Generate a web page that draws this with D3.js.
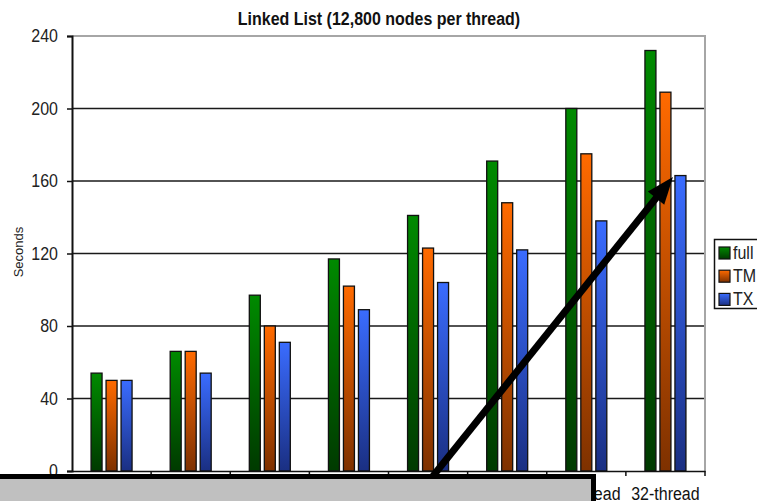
<!DOCTYPE html>
<html>
<head>
<meta charset="utf-8">
<script src="https://cdn.jsdelivr.net/npm/d3@7/dist/d3.min.js"></script>
<style>
  html, body { margin: 0; padding: 0; background: #fff; }
  svg { display: block; font-family: Arial, "Liberation Sans", sans-serif; }
</style>
</head>
<body>
<svg id="chart" width="757" height="501"></svg>
<script>
// Run times (seconds) per thread count for each variant
const categories = ["1-thread", "2-thread", "4-thread", "8-thread", "12-thread", "16-thread", "24-thread", "32-thread"];
const seriesNames = ["full", "TM", "TX"];
const fullValues = [54, 66, 97, 117, 141, 171, 200, 232];
const tmValues   = [50, 66, 80, 102, 123, 148, 175, 209];
const txValues   = [50, 54, 71, 89, 104, 122, 138, 163];
const yTicks = [0, 40, 80, 120, 160, 200, 240];

(function () {
const seriesValues = { full: fullValues, TM: tmValues, TX: txValues };
const colors = {
  full: ["#008a00", "#003a00"],
  TM:   ["#ff6a00", "#7e3100"],
  TX:   ["#3a6cff", "#1a2f82"]
};

const svg = d3.select("#chart");
const plotLeft = 72, plotRight = 705, plotTop = 36, plotBottom = 471;
const stretch = 1.1;

const x0 = d3.scaleBand().domain(categories).range([plotLeft, plotRight]).padding(0);
const groupW = 41;
const x1 = d3.scaleBand().domain(seriesNames).range([0, groupW]).paddingInner(0.267).paddingOuter(0);
const y = d3.scaleLinear().domain([0, 240]).range([plotBottom, plotTop]);

// gradients for bar fills
const defs = svg.append("defs");
seriesNames.forEach(s => {
  const g = defs.append("linearGradient").attr("id", "grad-" + s)
    .attr("x1", 0).attr("y1", 0).attr("x2", 0).attr("y2", 1);
  g.append("stop").attr("offset", "0%").attr("stop-color", colors[s][0]);
  g.append("stop").attr("offset", "100%").attr("stop-color", colors[s][1]);
});

// title
svg.append("text")
  .attr("transform", `translate(379,25) scale(1,${stretch})`)
  .attr("text-anchor", "middle")
  .attr("font-weight", "bold")
  .attr("font-size", 16)
  .attr("fill", "#111")
  .text("Linked List (12,800 nodes per thread)");

// gridlines
svg.append("g").selectAll("line")
  .data(yTicks.filter(t => t > 0 && t < 240))
  .join("line")
  .attr("x1", plotLeft).attr("x2", plotRight)
  .attr("y1", d => y(d)).attr("y2", d => y(d))
  .attr("stroke", "#1a1a1a").attr("stroke-width", 1.5);

// plot frame (top and right)
svg.append("path")
  .attr("d", `M${plotLeft},${y(240)}H${plotRight}V${plotBottom}`)
  .attr("fill", "none").attr("stroke", "#a6a6a6").attr("stroke-width", 2);

// bars
const groups = svg.append("g").selectAll("g")
  .data(categories)
  .join("g")
  .attr("transform", d => `translate(${x0(d) + (x0.bandwidth() - groupW) / 2},0)`);

groups.selectAll("rect")
  .data((c, i) => seriesNames.map(s => ({ s, v: seriesValues[s][i] })))
  .join("rect")
  .attr("x", d => x1(d.s))
  .attr("y", d => y(d.v))
  .attr("width", x1.bandwidth())
  .attr("height", d => y(0) - y(d.v))
  .attr("fill", d => `url(#grad-${d.s})`)
  .attr("stroke", "#111").attr("stroke-width", 1.3);

// y axis
const yAxis = d3.axisLeft(y).tickValues(yTicks).tickSize(5).tickPadding(9).tickFormat(d3.format("d"));
const yg = svg.append("g").attr("transform", `translate(${plotLeft},0)`).call(yAxis);
yg.select(".domain").attr("stroke", "#111").attr("stroke-width", 2);
yg.selectAll(".tick line").attr("stroke", "#111").attr("stroke-width", 1.5);
yg.selectAll(".tick text")
  .attr("font-size", 16).attr("fill", "#222")
  .attr("font-family", "Arial, 'Liberation Sans', sans-serif")
  .attr("dy", null).attr("y", 0).attr("x", -14)
  .attr("transform", `translate(0,5.5) scale(1,${stretch})`);

// x axis
const xAxis = d3.axisBottom(x0).tickSize(0).tickPadding(0);
const xg = svg.append("g").attr("transform", `translate(0,${plotBottom})`).call(xAxis);
xg.select(".domain").attr("stroke", "#111").attr("stroke-width", 1.5);
xg.selectAll(".tick text")
  .attr("font-size", 16).attr("fill", "#111")
  .attr("font-family", "Arial, 'Liberation Sans', sans-serif")
  .attr("dy", null).attr("y", 0)
  .attr("transform", `translate(0,29) scale(1,${stretch})`);
// category separators
xg.append("g").selectAll("line")
  .data(categories.slice(1).map(c => x0(c)).concat([plotRight]))
  .join("line")
  .attr("x1", d => d).attr("x2", d => d)
  .attr("y1", 0).attr("y2", 5)
  .attr("stroke", "#111").attr("stroke-width", 1.5);

// y axis title
svg.append("text")
  .attr("transform", "translate(23,252) rotate(-90)")
  .attr("text-anchor", "middle")
  .attr("font-size", 13)
  .attr("fill", "#222")
  .text("Seconds");

// legend
const legend = svg.append("g");
legend.append("rect")
  .attr("x", 714.5).attr("y", 239.5).attr("width", 80).attr("height", 69)
  .attr("fill", "#fff").attr("stroke", "#111").attr("stroke-width", 1.5);
const items = legend.selectAll("g.item")
  .data(seriesNames)
  .join("g").attr("class", "item")
  .attr("transform", (d, i) => `translate(719,${247 + i * 23.2})`);
items.append("rect")
  .attr("width", 11).attr("height", 12)
  .attr("fill", d => `url(#grad-${d})`)
  .attr("stroke", "#111").attr("stroke-width", 1.2);
items.append("text")
  .attr("transform", `translate(14,12) scale(1,${stretch})`)
  .attr("font-size", 16).attr("fill", "#222")
  .text(d => d);

// callout box over the lower labels
svg.append("rect")
  .attr("x", -10).attr("y", 476.5).attr("width", 603.5).attr("height", 40)
  .attr("fill", "#c0c0c0").attr("stroke", "#000").attr("stroke-width", 5);

// arrow from the callout to the top of the 32-thread TX bar
const lastCat = categories[categories.length - 1];
const tipX = x0(lastCat) + (x0.bandwidth() - groupW) / 2 + x1("TX") - 2;
const tipY = y(txValues[txValues.length - 1]) + 1.5;
const fromX = 433, fromY = 476;
const dx = tipX - fromX, dy = tipY - fromY;
const len = Math.hypot(dx, dy);
const ux = dx / len, uy = dy / len;
const nx = -uy, ny = ux;
const headLen = 27, headHalf = 10.5;
const bx = tipX - ux * headLen, by = tipY - uy * headLen;

svg.append("line")
  .attr("x1", fromX).attr("y1", fromY)
  .attr("x2", tipX - ux * (headLen - 4)).attr("y2", tipY - uy * (headLen - 4))
  .attr("stroke", "#000").attr("stroke-width", 7);
svg.append("path")
  .attr("d", `M${tipX},${tipY}L${bx + nx * headHalf},${by + ny * headHalf}L${bx - nx * headHalf},${by - ny * headHalf}Z`)
  .attr("fill", "#000");
})();
</script>
</body>
</html>
